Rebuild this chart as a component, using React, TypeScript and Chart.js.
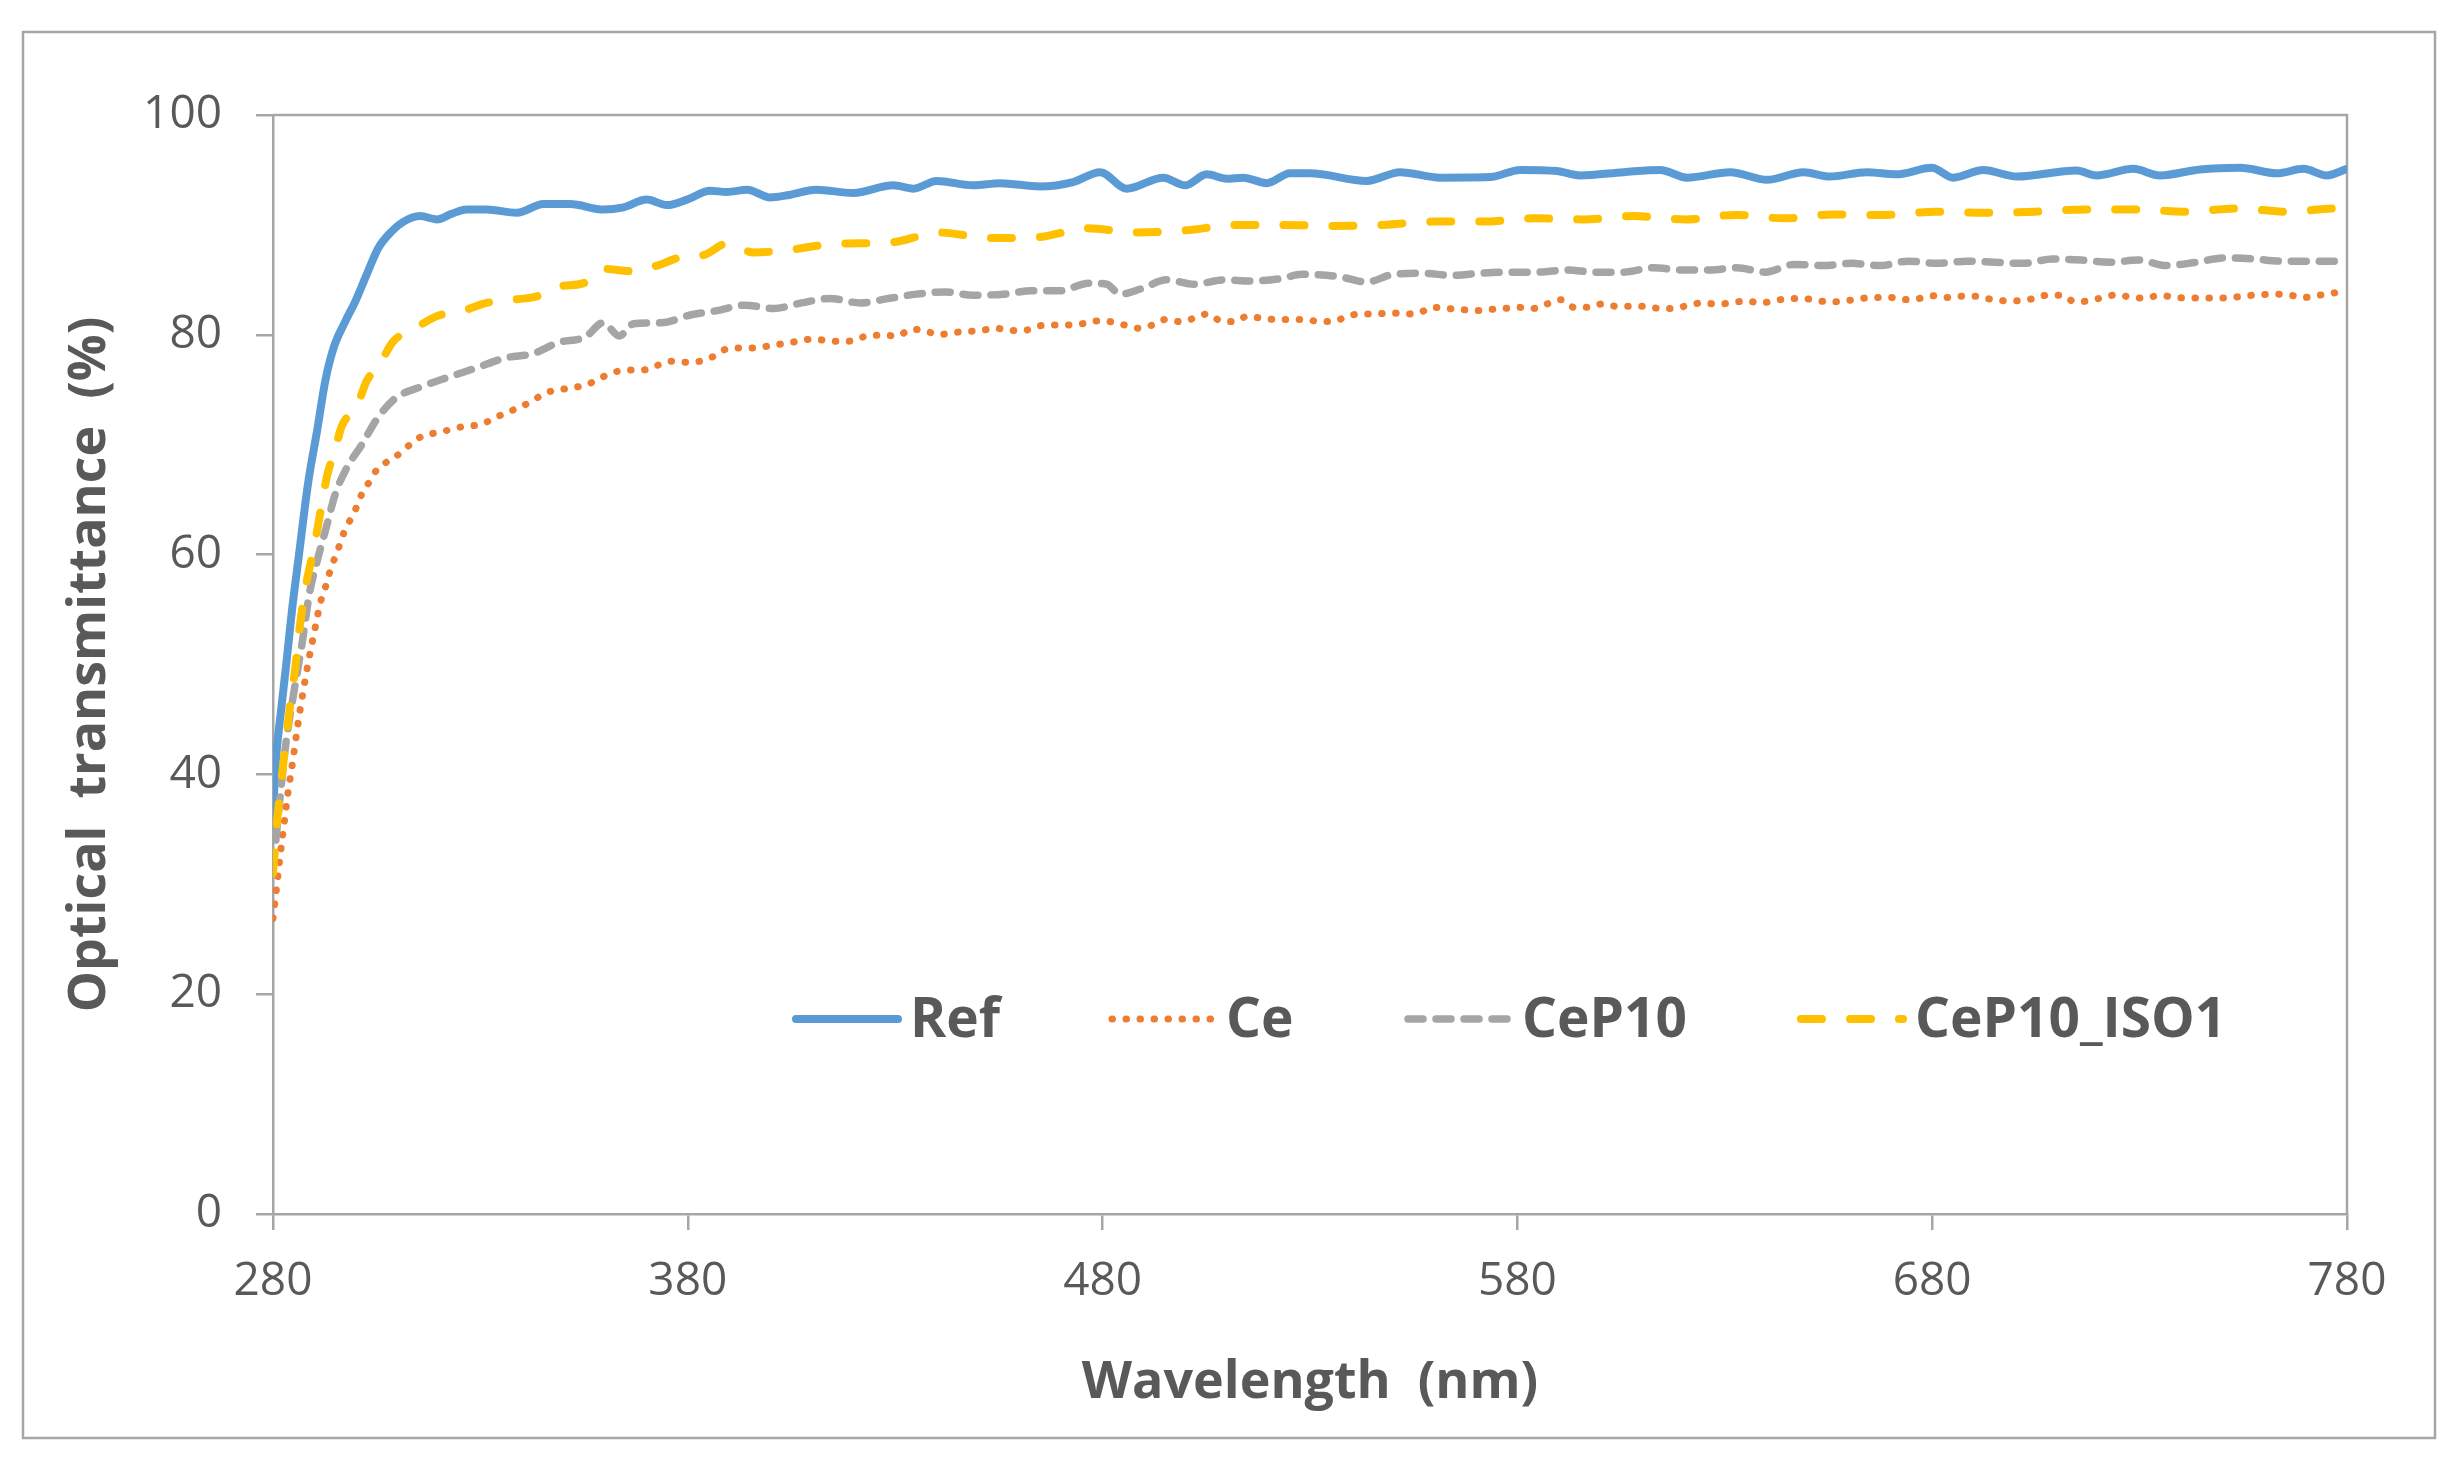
import React, { useEffect, useRef } from "react";
import { Chart, registerables } from "chart.js";

Chart.register(...registerables);

const W = 2460;
const H = 1473;

const seriesNames = ["Ref", "Ce", "CeP10", "CeP10_ISO1"];
const seriesColors = ["#5B9BD5", "#ED7D31", "#A5A5A5", "#FFC000"];

const xTicks = [280, 380, 480, 580, 680, 780];
const yTicks = [0, 20, 40, 60, 80, 100];

const refNm = [280, 280.7, 282, 283.3, 284.6, 286.1, 288.5, 290.6, 292.6, 294.6, 297.4, 299.8, 302.6, 305.4, 308.6, 311.5, 315.5, 319.5, 323, 326.7, 331.5, 338.8, 345.2, 351.6, 359.7, 364.5, 370.1, 375, 379.8, 385.4, 389.4, 394.3, 399.9, 404, 411, 419.9, 429.5, 434.4, 440, 448.8, 455.3, 464.9, 472.9, 479.4, 485.8, 494.6, 499.9, 505.1, 509.9, 513.9, 519.6, 525.2, 530, 543.7, 551.7, 561.4, 573.4, 580.7, 589.5, 595.1, 605.6, 614.4, 620.9, 631.3, 640.2, 649, 655.3, 664.2, 671.4, 679.9, 685.1, 692.3, 700.4, 714.8, 719.6, 728.5, 734.9, 744.6, 754.2, 763.1, 769.5, 775.1, 780];
const refT = [36.5, 41.3, 46, 50.4, 55, 59.5, 66.6, 71.2, 75.8, 78.8, 81.2, 83.0, 85.5, 87.9, 89.4, 90.3, 90.8, 90.5, 91.0, 91.4, 91.4, 91.1, 91.9, 91.9, 91.4, 91.6, 92.3, 91.8, 92.3, 93.1, 93.0, 93.2, 92.5, 92.7, 93.2, 92.9, 93.6, 93.3, 94.0, 93.6, 93.8, 93.5, 93.9, 94.8, 93.3, 94.3, 93.6, 94.6, 94.2, 94.3, 93.8, 94.7, 94.7, 94.0, 94.8, 94.3, 94.35, 95.0, 94.9, 94.5, 94.8, 95.0, 94.3, 94.8, 94.1, 94.8, 94.4, 94.8, 94.6, 95.2, 94.3, 95.0, 94.4, 94.95, 94.5, 95.1, 94.5, 95.05, 95.2, 94.7, 95.1, 94.5, 95.1];

const ceNm = [280, 280.8, 281.6, 282.6, 283.6, 284.8, 285.9, 287.2, 288.6, 290.2, 291.4, 292.6, 293.5, 294.6, 295.8, 297, 298.4, 300, 301.4, 303.2, 305, 307.7, 310.6, 313.3, 316.1, 319.7, 323.1, 326.6, 329.9, 333.2, 336.2, 339.4, 342.6, 345.6, 349, 352.5, 355.9, 359.1, 362.3, 365.7, 369.2, 372.5, 376, 379.4, 383, 386, 389.3, 392.6, 396.1, 399.6, 403.1, 406.4, 409.8, 413.3, 416.8, 420.3, 423.7, 427.1, 430.6, 433.8, 437, 440.4, 443.8, 447.4, 450.8, 454.3, 457.7, 461.1, 464.5, 468, 471.5, 475, 478.4, 481.8, 485.2, 488.7, 492.1, 495.3, 498.7, 502, 505.3, 508.3, 511.7, 515, 518.4, 521.8, 525.4, 528.8, 532.3, 535.6, 539, 542.5, 545.9, 549.5, 552.9, 556.3, 559.5, 563, 566.4, 570, 573.4, 576.9, 580.3, 583.9, 587.1, 590.5, 593.7, 597, 600.4, 603.8, 607.4, 610.8, 614.3, 617.8, 621.3, 624.6, 628.1, 631.6, 635.1, 638.5, 642, 645.5, 649, 652.4, 655.8, 659.4, 662.7, 666.3, 669.7, 673.2, 676.7, 680.1, 683.5, 687.1, 690.5, 693.9, 697.5, 700.9, 704.4, 707.7, 711.3, 714.4, 717.9, 721.2, 724.6, 728, 731.5, 734.9, 738.5, 741.9, 745.4, 748.9, 752.3, 755.8, 759.3, 762.8, 766.3, 769.7, 773.1, 776.8, 780];
const ceT = [26.9, 29.5, 32.2, 35.3, 38.3, 41.3, 44.3, 47.4, 50.4, 53.4, 55.6, 57.0, 58.2, 59.4, 60.6, 61.9, 63.0, 64.2, 65.5, 66.6, 67.7, 68.5, 69.2, 70.1, 70.8, 71.1, 71.4, 71.7, 71.8, 72.4, 72.9, 73.4, 74.0, 74.7, 75.0, 75.2, 75.5, 76.1, 76.6, 76.8, 76.8, 77.2, 77.6, 77.5, 77.6, 78.0, 78.7, 78.8, 78.8, 79.0, 79.2, 79.4, 79.6, 79.5, 79.4, 79.5, 79.95, 79.95, 79.9, 80.5, 80.4, 80.0, 80.2, 80.3, 80.4, 80.6, 80.4, 80.4, 80.8, 80.9, 80.9, 81.0, 81.25, 81.2, 80.9, 80.6, 80.9, 81.4, 81.2, 81.5, 81.9, 81.3, 81.2, 81.7, 81.5, 81.4, 81.4, 81.4, 81.2, 81.2, 81.7, 81.9, 81.9, 82.0, 81.9, 82.0, 82.5, 82.4, 82.3, 82.2, 82.3, 82.4, 82.5, 82.4, 82.8, 83.2, 82.5, 82.5, 82.8, 82.6, 82.6, 82.6, 82.4, 82.4, 82.7, 82.9, 82.8, 82.9, 83.1, 82.9, 83.1, 83.3, 83.3, 83.1, 83.0, 83.1, 83.3, 83.4, 83.4, 83.2, 83.3, 83.55, 83.4, 83.5, 83.5, 83.25, 83.1, 83.1, 83.3, 83.6, 83.6, 83.0, 83.1, 83.4, 83.65, 83.4, 83.35, 83.6, 83.4, 83.35, 83.35, 83.35, 83.4, 83.55, 83.65, 83.7, 83.6, 83.4, 83.6, 83.8, 84.2];

const cep10Nm = [280, 280.6, 281.8, 283.1, 285, 287, 288.8, 290.7, 293, 295, 297.8, 301.4, 305, 309.4, 315.9, 322.7, 329.1, 336, 342.8, 348.8, 355.3, 359.6, 363.5, 366.9, 373.8, 380.6, 387, 393.8, 400.7, 407.4, 414.3, 421.5, 428.3, 435.2, 442.2, 448.8, 456.1, 462.9, 469.7, 476.6, 481, 484.2, 489.4, 495.4, 502.3, 509.1, 515.9, 522.8, 528, 536.9, 543.7, 550.1, 557.4, 564.2, 571, 577.9, 584.7, 591.9, 598.8, 605.6, 612.8, 619.7, 626.5, 632.9, 639.8, 646.6, 653.7, 660.6, 667.4, 674.2, 681.2, 688.3, 695.1, 702, 709, 716, 722.9, 729.7, 736.5, 743.6, 750.4, 757.4, 764.3, 771.1, 780];
const cep10T = [31.5, 33.7, 38.3, 42.8, 47.4, 51.9, 56.5, 59.5, 62.7, 65.5, 67.9, 70.0, 72.3, 74.2, 75.3, 76.2, 77.0, 77.9, 78.3, 79.3, 79.8, 81.1, 79.9, 81.0, 81.1, 81.8, 82.2, 82.7, 82.4, 82.9, 83.3, 82.9, 83.3, 83.7, 83.9, 83.6, 83.7, 84.0, 84.0, 84.7, 84.6, 83.7, 84.2, 85.0, 84.6, 85.0, 84.9, 85.1, 85.5, 85.3, 84.8, 85.5, 85.6, 85.4, 85.6, 85.7, 85.7, 85.9, 85.7, 85.7, 86.1, 85.9, 85.9, 86.1, 85.7, 86.4, 86.3, 86.5, 86.3, 86.7, 86.5, 86.7, 86.6, 86.5, 86.9, 86.8, 86.6, 86.8, 86.3, 86.6, 87.0, 86.9, 86.7, 86.7, 86.7];

const iso1Nm = [280, 281.1, 282.4, 283.8, 285.4, 286.5, 288.1, 289.7, 291.4, 293, 295, 296.6, 300.2, 302.6, 305.8, 309, 314.3, 319.5, 325.9, 331.5, 338, 343.6, 349.2, 354.9, 360.1, 366.1, 372.6, 377.8, 384.2, 389.4, 395.9, 401.5, 416.7, 428.7, 440.8, 452.8, 464.9, 476.2, 488.2, 499.9, 512.3, 523.6, 535.7, 547.7, 559.8, 571.8, 583.9, 595.9, 608, 620.5, 632.5, 644.2, 656.1, 668.6, 680.7, 692.7, 704.8, 717.2, 729.3, 741.3, 753.4, 765.5, 777.6, 780];
const iso1T = [31.0, 36.2, 40.7, 45.3, 49.8, 53.6, 57.5, 60.3, 63.8, 67.1, 69.6, 71.7, 73.5, 75.8, 77.4, 79.4, 80.6, 81.7, 82.2, 82.9, 83.2, 83.5, 84.4, 84.7, 86.0, 85.8, 86.3, 87.0, 87.3, 88.3, 87.5, 87.6, 88.3, 88.4, 89.3, 88.8, 88.9, 89.7, 89.3, 89.5, 90.0, 90.0, 89.9, 90.0, 90.3, 90.3, 90.6, 90.5, 90.8, 90.5, 90.9, 90.6, 90.95, 90.9, 91.2, 91.1, 91.2, 91.4, 91.4, 91.2, 91.5, 91.2, 91.5, 91.4];

const toPoints = (nm: number[], t: number[]) => nm.map((x, i) => ({ x, y: t[i] }));

const AXIS_COLOR = "#A6A6A6";
const TEXT_COLOR = "#595959";
const FONT = "'Open Sans', 'Noto Sans', sans-serif";

const frame = { left: 23, top: 32, right: 2435, bottom: 1438 };

const framePlugin = {
  id: "framePlugin",
  beforeDraw(chart: any) {
    const ctx = chart.ctx;
    ctx.save();
    ctx.fillStyle = "#ffffff";
    ctx.fillRect(0, 0, chart.width, chart.height);
    ctx.strokeStyle = AXIS_COLOR;
    ctx.lineWidth = 2.5;
    ctx.strokeRect(frame.left, frame.top, frame.right - frame.left, frame.bottom - frame.top);
    ctx.restore();
  },
  beforeDatasetsDraw(chart: any) {
    const { ctx, chartArea } = chart;
    ctx.save();
    ctx.strokeStyle = AXIS_COLOR;
    ctx.lineWidth = 2.5;
    ctx.beginPath();
    ctx.moveTo(chartArea.left, chartArea.top);
    ctx.lineTo(chartArea.right, chartArea.top);
    ctx.lineTo(chartArea.right, chartArea.bottom);
    ctx.stroke();
    ctx.restore();
  },
};

const legendPlugin = {
  id: "customLegend",
  afterDraw(chart: any) {
    const { ctx, chartArea } = chart;
    const starts = [519, 835, 1131, 1524];
    const sampleW = 110;
    const y = chartArea.top + 904;
    ctx.save();
    ctx.font = `bold 55px ${FONT}`;
    ctx.fillStyle = TEXT_COLOR;
    ctx.textBaseline = "middle";
    ctx.textAlign = "left";
    chart.data.datasets.forEach((ds: any, i: number) => {
      const x0 = chartArea.left + starts[i];
      ctx.save();
      ctx.strokeStyle = ds.borderColor;
      ctx.lineWidth = ds.borderWidth;
      ctx.lineCap = "round";
      ctx.setLineDash(ds.borderDash || []);
      ctx.beginPath();
      ctx.moveTo(x0 + 4, y);
      ctx.lineTo(x0 + sampleW - 4, y);
      ctx.stroke();
      ctx.restore();
      ctx.fillText(ds.label, x0 + sampleW + 8, y + 2);
    });
    ctx.restore();
  },
};

export default function App() {
  const canvasRef = useRef<HTMLCanvasElement | null>(null);

  useEffect(() => {
    if (!canvasRef.current) return;
    const datasets = [
      { label: seriesNames[0], data: toPoints(refNm, refT), borderColor: seriesColors[0], borderWidth: 8, borderDash: [], order: 4 },
      { label: seriesNames[1], data: toPoints(ceNm, ceT), borderColor: seriesColors[1], borderWidth: 7, borderDash: [0.5, 13.5], order: 3 },
      { label: seriesNames[2], data: toPoints(cep10Nm, cep10T), borderColor: seriesColors[2], borderWidth: 7.5, borderDash: [15, 13], order: 2 },
      { label: seriesNames[3], data: toPoints(iso1Nm, iso1T), borderColor: seriesColors[3], borderWidth: 8, borderDash: [21, 28], order: 1 },
    ].map((d) => ({
      ...d,
      fill: false,
      pointRadius: 0,
      pointHoverRadius: 0,
      borderCapStyle: "round" as const,
      borderJoinStyle: "round" as const,
      cubicInterpolationMode: "monotone" as const,
    }));

    const chart = new Chart(canvasRef.current, {
      type: "line",
      data: { datasets },
      options: {
        animation: false,
        responsive: false,
        devicePixelRatio: 1,
        layout: { padding: { left: 0, top: 115, right: 113, bottom: 0 } },
        plugins: { legend: { display: false }, tooltip: { enabled: false } },
        scales: {
          x: {
            type: "linear",
            min: xTicks[0],
            max: xTicks[xTicks.length - 1],
            afterBuildTicks: (s: any) => { s.ticks = xTicks.map((v) => ({ value: v })); },
            afterFit: (s: any) => { s.height = 259; },
            ticks: { color: TEXT_COLOR, font: { family: FONT, size: 46 }, padding: 24, maxRotation: 0, autoSkip: false },
            grid: { display: true, drawOnChartArea: false, drawTicks: true, tickLength: 16, color: AXIS_COLOR, lineWidth: 2.5 },
            border: { display: true, color: AXIS_COLOR, width: 2.5 },
            title: { display: true, text: "Wavelength  (nm)", color: TEXT_COLOR, font: { family: FONT, size: 52, weight: "bold" }, padding: { top: 0, bottom: 59 } },
          },
          y: {
            type: "linear",
            min: yTicks[0],
            max: yTicks[yTicks.length - 1],
            afterBuildTicks: (s: any) => { s.ticks = yTicks.map((v) => ({ value: v })); },
            afterFit: (s: any) => { s.width = 273; },
            ticks: { color: TEXT_COLOR, font: { family: FONT, size: 46 }, padding: 34 },
            grid: { display: true, drawOnChartArea: false, drawTicks: true, tickLength: 17, color: AXIS_COLOR, lineWidth: 2.5 },
            border: { display: true, color: AXIS_COLOR, width: 2.5 },
            title: { display: true, text: "Optical  transmittance  (%)", color: TEXT_COLOR, font: { family: FONT, size: 52, weight: "bold" }, padding: { top: 59, bottom: 0 } },
          },
        },
      },
      plugins: [framePlugin, legendPlugin],
    });
    return () => chart.destroy();
  }, []);

  return (
    <div style={{ position: "absolute", left: 0, top: 0, width: W, height: H, background: "#fff" }}>
      <canvas ref={canvasRef} width={W} height={H} style={{ display: "block", width: W, height: H }} />
    </div>
  );
}
